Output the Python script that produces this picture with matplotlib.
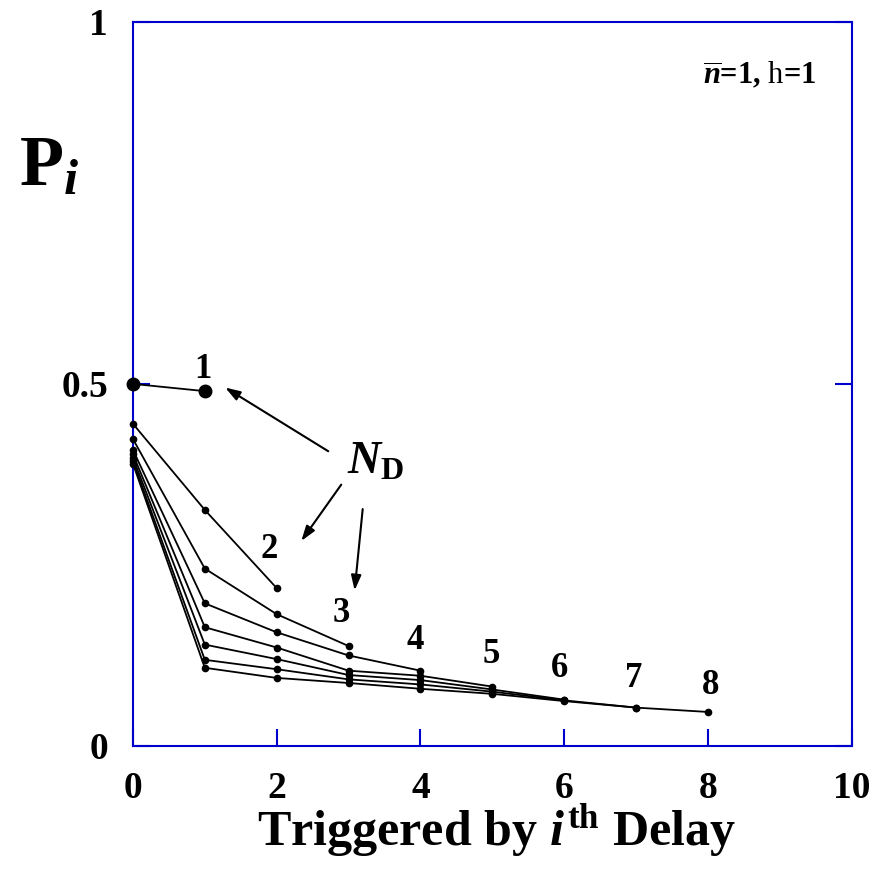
import numpy as np
import matplotlib
matplotlib.use("Agg")
import matplotlib.pyplot as plt

plt.rcParams['font.family'] = ['Liberation Serif', 'DejaVu Serif']
plt.rcParams['mathtext.fontset'] = 'custom'
plt.rcParams['mathtext.rm'] = 'Liberation Serif'
plt.rcParams['mathtext.it'] = 'Liberation Serif:italic:bold'
plt.rcParams['mathtext.bf'] = 'Liberation Serif:bold'

# P_i for each number of delays N_D (index i = 0..N_D)
p_n1 = [0.500, 0.490]
p_n2 = [0.445, 0.326, 0.218]
p_n3 = [0.424, 0.245, 0.182, 0.138]
p_n4 = [0.409, 0.197, 0.157, 0.125, 0.104]
p_n5 = [0.403, 0.164, 0.136, 0.104, 0.097, 0.082]
p_n6 = [0.398, 0.140, 0.120, 0.098, 0.091, 0.078, 0.064]
p_n7 = [0.394, 0.119, 0.106, 0.092, 0.085, 0.075, 0.063, 0.053]
p_n8 = [0.390, 0.108, 0.094, 0.087, 0.079, 0.072, 0.062, 0.053, 0.047]
curves = [p_n2, p_n3, p_n4, p_n5, p_n6, p_n7, p_n8]

nd_labels = ['1', '2', '3', '4', '5', '6', '7', '8']
label_x = [0.97, 1.9, 2.9, 3.93, 4.99, 5.93, 6.97, 8.04]
label_y = [0.52, 0.271, 0.183, 0.146, 0.126, 0.107, 0.093, 0.084]

blue = '#0000cc'

fig = plt.figure(figsize=(8.92, 8.72), dpi=100)
ax = fig.add_axes([0.149, 0.1445, 0.806, 0.8305])

ax.plot(range(len(p_n1)), p_n1, color='black', lw=1.3, marker='o', ms=9, clip_on=False, zorder=3)
for c in curves:
    ax.plot(range(len(c)), c, color='black', lw=1.3, marker='o', ms=4.5, clip_on=False, zorder=3)

for s, x, y in zip(nd_labels, label_x, label_y):
    ax.text(x, y, s, ha='center', va='center', fontsize=25, fontweight='bold')

# N_D annotation with arrows
ax.text(3.37, 0.392, r'$N_{\mathbf{D}}$', ha='center', va='center', fontsize=33)
arr = dict(arrowstyle='-|>,head_length=0.9,head_width=0.3', color='black', lw=1.5)
ax.annotate('', xy=(1.25, 0.497), xytext=(2.75, 0.405), arrowprops=arr)
ax.annotate('', xy=(2.32, 0.28), xytext=(2.92, 0.364), arrowprops=arr)
ax.annotate('', xy=(3.08, 0.211), xytext=(3.2, 0.331), arrowprops=arr)

ax.text(8.72, 0.927, r'$\overline{n}$=1, $\mathrm{h}$=1',
        ha='center', va='center', fontsize=22, fontweight='bold')

ax.set_xlim(0, 10)
ax.set_ylim(0, 1)
ax.set_xticks([0, 2, 4, 6, 8, 10])
ax.set_yticks([0, 0.5, 1])
ax.set_yticklabels(['0', '0.5', '1'])
for sp in ax.spines.values():
    sp.set_color(blue)
    sp.set_linewidth(1.5)
ax.tick_params(direction='in', length=12, width=1.5, color=blue,
               labelsize=27, pad=18, right=True)
for lab in ax.get_xticklabels() + ax.get_yticklabels():
    lab.set_fontweight('bold')

fig.text(0.557, 0.047, r'$\mathbf{Triggered\ by\ }i^{\mathbf{th}}\mathbf{\ Delay}$',
         ha='center', va='center', fontsize=36)
fig.text(0.055, 0.808, r'$\mathbf{P}_{i}$', ha='center', va='center', fontsize=52)

fig.savefig('out.png', dpi=100)
